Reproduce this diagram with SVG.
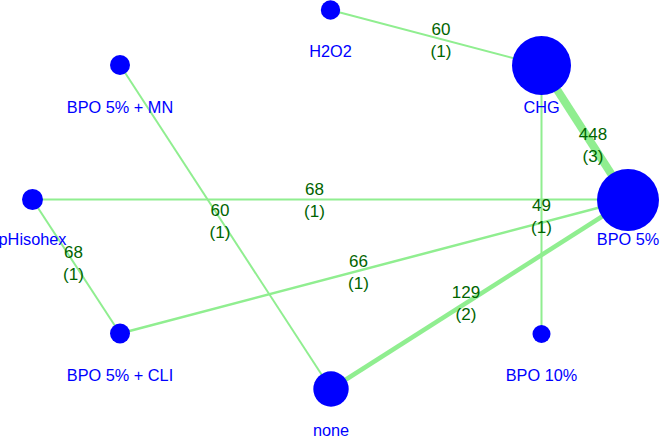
<svg xmlns="http://www.w3.org/2000/svg" width="660" height="437" viewBox="0 0 660 437">
<style>
.e{stroke:#90EE90;fill:none;stroke-linecap:butt}
.n{fill:#0000FF}
.nl{font-family:"Liberation Sans",Arial,sans-serif;font-size:16.3px;fill:#0000FF;text-anchor:middle}
.el{font-family:"Liberation Sans",Arial,sans-serif;font-size:17px;fill:#006400;text-anchor:middle}
</style>
<rect width="660" height="437" fill="#FFFFFF"/>
<g id="connectors">
<line class="e" x1="330.5" y1="10" x2="541.5" y2="65.5" stroke-width="2"/>
<line class="e" x1="541.5" y1="65.5" x2="628" y2="200" stroke-width="8"/>
<line class="e" x1="32.5" y1="199.5" x2="628" y2="199.5" stroke-width="2"/>
<line class="e" x1="120" y1="65" x2="331" y2="389" stroke-width="2"/>
<line class="e" x1="541.5" y1="65.5" x2="541.5" y2="334" stroke-width="2"/>
<line class="e" x1="32.5" y1="199.5" x2="120" y2="333.5" stroke-width="2"/>
<line class="e" x1="120" y1="333.5" x2="628" y2="200" stroke-width="2.5"/>
<line class="e" x1="331" y1="389" x2="628" y2="200" stroke-width="4.5"/>
</g>
<g id="edge-labels">
<text class="el" x="441" y="35">60</text><text class="el" x="441" y="57">(1)</text>
<text class="el" x="593" y="140">448</text><text class="el" x="593" y="162">(3)</text>
<text class="el" x="314.5" y="195">68</text><text class="el" x="314.5" y="217">(1)</text>
<text class="el" x="220" y="215.5">60</text><text class="el" x="220" y="237.5">(1)</text>
<text class="el" x="541.5" y="211">49</text><text class="el" x="541.5" y="233">(1)</text>
<text class="el" x="73.5" y="258">68</text><text class="el" x="73.5" y="280">(1)</text>
<text class="el" x="358.5" y="266.7">66</text><text class="el" x="358.5" y="288.7">(1)</text>
<text class="el" x="466" y="298">129</text><text class="el" x="466" y="320">(2)</text>
</g>
<g id="node-H2O2"><circle class="n" cx="330.5" cy="10" r="9.7"/><text class="nl" x="330.5" y="57">H2O2</text></g>
<g id="node-BPO5-MN"><circle class="n" cx="120" cy="65" r="10"/><text class="nl" x="120" y="112.7">BPO 5% + MN</text></g>
<g id="node-CHG"><circle class="n" cx="541.5" cy="65.5" r="29.5"/><text class="nl" x="541.5" y="112.7">CHG</text></g>
<g id="node-pHisohex"><circle class="n" cx="32.5" cy="199.5" r="10.5"/><text class="nl" x="32.5" y="245">pHisohex</text></g>
<g id="node-BPO5"><circle class="n" cx="628" cy="200" r="31"/><text class="nl" x="628" y="245">BPO 5%</text></g>
<g id="node-BPO5-CLI"><circle class="n" cx="120" cy="333.5" r="10"/><text class="nl" x="120" y="380.7">BPO 5% + CLI</text></g>
<g id="node-BPO10"><circle class="n" cx="541.5" cy="334" r="9"/><text class="nl" x="541.5" y="380.7">BPO 10%</text></g>
<g id="node-none"><circle class="n" cx="331" cy="389" r="17.7"/><text class="nl" x="331" y="435.5">none</text></g>
</svg>
